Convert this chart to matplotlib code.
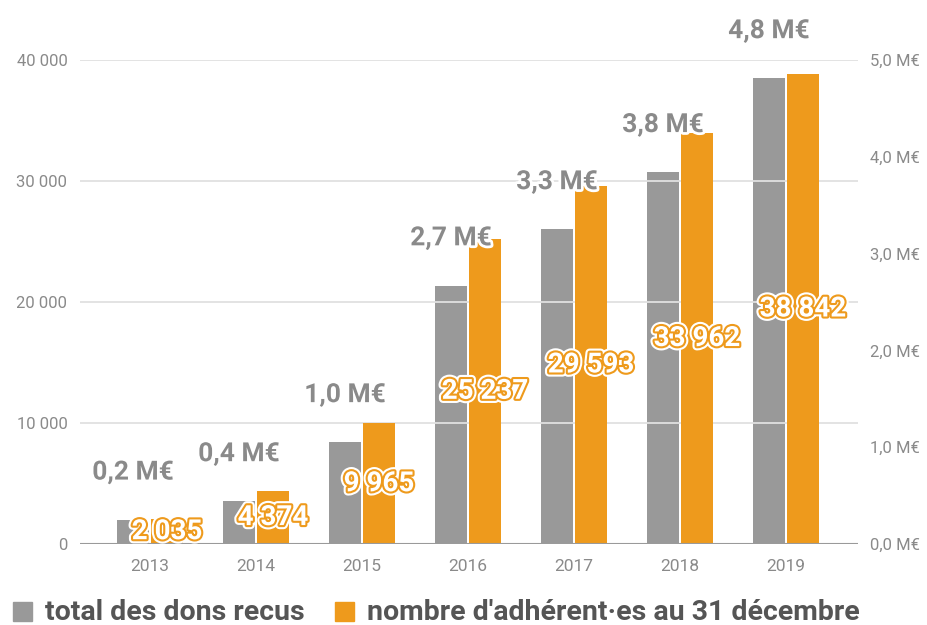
import matplotlib.pyplot as plt
import matplotlib.patheffects as pe
from matplotlib.patches import Rectangle

plt.rcParams['font.family'] = ['Roboto', 'DejaVu Sans']

years = ["2013", "2014", "2015", "2016", "2017", "2018", "2019"]
# total des dons (M€) - axe de droite
dons = [0.25, 0.44, 1.05, 2.67, 3.25, 3.84, 4.81]
dons_labels = ["0,2 M€", "0,4 M€", "1,0 M€", "2,7 M€", "3,3 M€", "3,8 M€", "4,8 M€"]
# nombre d'adhérent·es - axe de gauche
adherents = [2035, 4374, 9965, 25237, 29593, 33962, 38842]
adherents_labels = ["2 035", "4 374", "9 965", "25 237", "29 593", "33 962", "38 842"]

left_ticks = [0, 10000, 20000, 30000, 40000]
left_ticklabels = ["0", "10 000", "20 000", "30 000", "40 000"]
right_ticks = [0, 1, 2, 3, 4, 5]
right_ticklabels = ["0,0 M€", "1,0 M€", "2,0 M€", "3,0 M€", "4,0 M€", "5,0 M€"]

legend_labels = ["total des dons recus", "nombre d'adhérent·es au 31 décembre"]

GREY = '#999999'
ORANGE = '#EE9A1C'
TXT = '#8a8a8a'

fig = plt.figure(figsize=(9.27, 6.25), dpi=100)
ax = fig.add_axes([80 / 927, 1 - 544 / 625, 778 / 927, 484 / 625])
ax2 = ax.twinx()

x = list(range(len(years)))
w = 0.30
off = 0.16

ax.set_ylim(0, 40000)
ax2.set_ylim(0, 5)
ax.set_xlim(-0.66, 6.68)

# barres grises sur l'axe de droite, orange sur l'axe de gauche
ax2.bar([i - off for i in x], dons, width=w, color=GREY, zorder=2)
ax.bar([i + off for i in x], adherents, width=w, color=ORANGE, zorder=2)

ax.set_zorder(ax2.get_zorder() + 1)
ax.patch.set_visible(False)

ax.set_yticks(left_ticks)
ax.set_yticklabels(left_ticklabels)
ax2.set_yticks(right_ticks)
ax2.set_yticklabels(right_ticklabels)
ax.set_xticks(x)
ax.set_xticklabels(years)

ax.grid(axis='y', color='#e0e0e0', linewidth=1.3, zorder=0)
ax.set_axisbelow(True)
for a in (ax, ax2):
    for s in a.spines.values():
        s.set_visible(False)
    a.tick_params(length=0, colors=TXT, labelsize=12)
ax.tick_params(axis='y', pad=9)
ax2.tick_params(axis='y', pad=9)
ax.tick_params(axis='x', pad=11, labelsize=12.5)
ax.axhline(0, color='#9a9a9a', linewidth=1.5, zorder=3)

# étiquettes des dons (au-dessus des barres grises)
for i, v in enumerate(dons):
    ax.annotate(dons_labels[i], (i - off, v * 8000), xytext=(0, 34),
                textcoords='offset points', ha='center', va='center',
                fontsize=19, fontweight='bold', color=TXT, zorder=5,
                path_effects=[pe.withStroke(linewidth=4, foreground='white')])

# étiquettes des adhérent·es (au milieu des barres orange)
for i, v in enumerate(adherents):
    ax.text(i + off, v / 2, adherents_labels[i], ha='center', va='center',
            fontsize=20, fontweight='bold', color='white', zorder=6,
            path_effects=[pe.Stroke(linewidth=6, foreground='white'),
                          pe.Stroke(linewidth=3, foreground=ORANGE),
                          pe.Normal()])

# légende en bas
for color, label, x0 in zip([GREY, ORANGE], legend_labels, [13, 335]):
    fig.patches.append(Rectangle((x0 / 927, 4 / 625), 19 / 927, 19 / 625,
                                 transform=fig.transFigure, color=color))
    fig.text((x0 + 32) / 927, 5 / 625, label, ha='left', va='baseline',
             fontsize=20.5, fontweight='bold', color='#555555')

fig.savefig("out.png", dpi=100)
